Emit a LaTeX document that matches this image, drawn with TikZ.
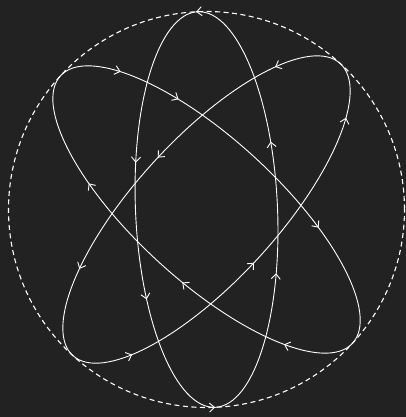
\documentclass[tikz,border=0pt]{standalone}
\usetikzlibrary{arrows.meta,decorations.markings}
\definecolor{night}{RGB}{34,34,34}
\begin{document}
\begin{tikzpicture}[x=1bp, y=1bp, >={Straight Barb[length=5bp, width=9bp, line width=0.9bp]},
  orbit/.style={draw=white, line width=0.9bp, postaction={decorate}},
  rim/.style={draw=white, line width=1.1bp, dash pattern=on 5bp off 3.5bp}]
\fill[night] (0,0) rectangle (406,417);
\useasboundingbox (0,0) rectangle (406,417);
\coordinate (c) at (206.5,207.5);

\draw[rim] (c) circle [radius=198bp];

\draw[orbit, rotate around={92.5:(c)}, decoration={markings,
  mark=at position 0.002 with {\arrow{>}},
  mark=at position 0.194 with {\arrow{>}},
  mark=at position 0.348 with {\arrow{>}},
  mark=at position 0.5 with {\arrow{>}},
  mark=at position 0.675 with {\arrow{>}},
  mark=at position 0.823 with {\arrow{>}}}]
  (c) ellipse [x radius=198bp, y radius=71bp];

\draw[orbit, rotate around={137.5:(c)}, decoration={markings,
  mark=at position 0.139 with {\arrow{<}},
  mark=at position 0.292 with {\arrow{<}},
  mark=at position 0.426 with {\arrow{<}},
  mark=at position 0.650 with {\arrow{<}},
  mark=at position 0.864 with {\arrow{<}},
  mark=at position 0.936 with {\arrow{<}}}]
  (c) ellipse [x radius=198bp, y radius=71bp];

\draw[orbit, rotate around={47.5:(c)}, decoration={markings,
  mark=at position 0.077 with {\arrow{>}},
  mark=at position 0.244 with {\arrow{>}},
  mark=at position 0.397 with {\arrow{>}},
  mark=at position 0.570 with {\arrow{>}},
  mark=at position 0.742 with {\arrow{>}},
  mark=at position 0.936 with {\arrow{>}}}]
  (c) ellipse [x radius=198bp, y radius=71bp];
\end{tikzpicture}
\end{document}
